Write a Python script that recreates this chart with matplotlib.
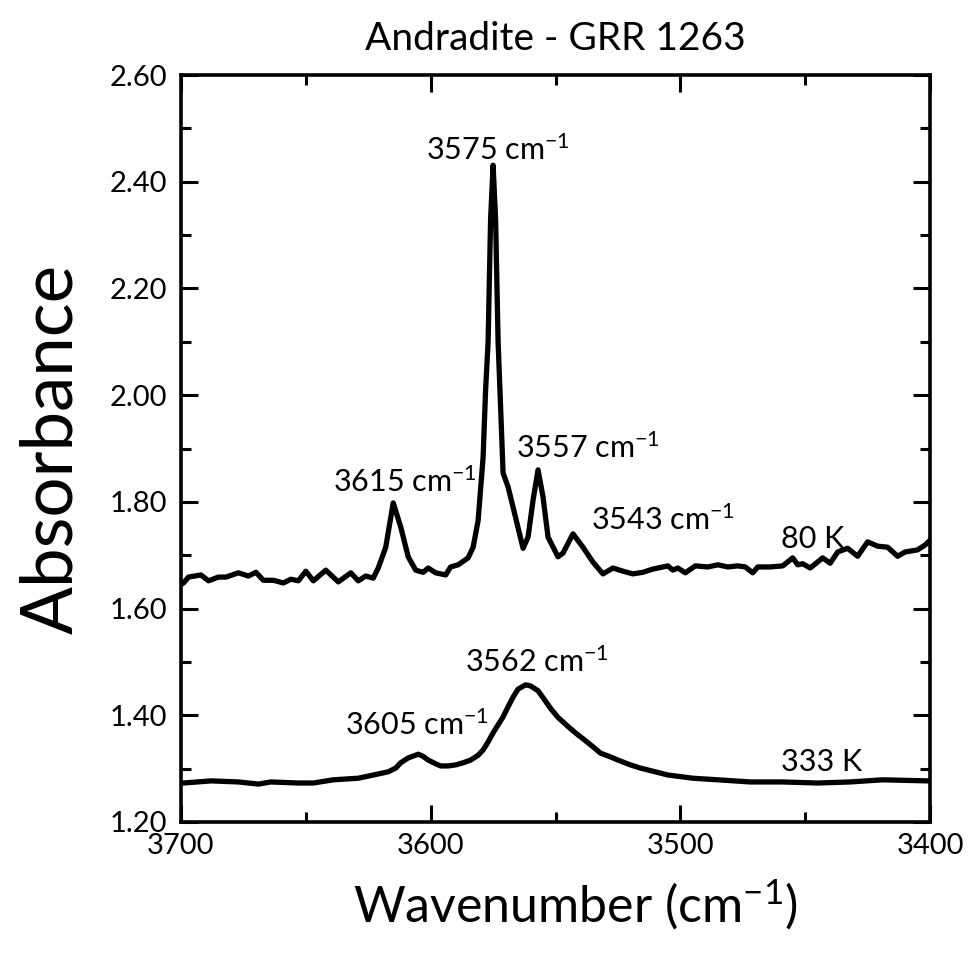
import matplotlib
matplotlib.use("Agg")
import matplotlib.pyplot as plt
from matplotlib.ticker import MultipleLocator, FormatStrFormatter

plt.rcParams['font.family'] = ['Lato', 'DejaVu Sans']
plt.rcParams['mathtext.fontset'] = 'custom'
plt.rcParams['mathtext.rm'] = 'Lato'
plt.rcParams['mathtext.it'] = 'Lato'
plt.rcParams['mathtext.bf'] = 'Lato'

# 80 K spectrum (wavenumber cm-1, absorbance)
wn_80 = [3700, 3699, 3697, 3692, 3689, 3685, 3682, 3677, 3673, 3670, 3667, 3663, 3659,
         3656, 3653, 3650, 3647, 3642, 3637, 3632, 3629, 3626, 3623, 3621, 3618, 3615,
         3612, 3609, 3606, 3603, 3601, 3598, 3594, 3592, 3589, 3585, 3583, 3581, 3579,
         3578, 3577, 3576, 3575, 3574, 3573, 3572, 3571, 3569, 3567, 3563, 3561, 3559,
         3557, 3555, 3553, 3549, 3547, 3543, 3539, 3535, 3531, 3527, 3523, 3519, 3515,
         3511, 3505, 3503, 3501, 3498, 3494, 3489, 3485, 3481, 3477, 3474, 3471, 3469,
         3464, 3459, 3455, 3453, 3451, 3448, 3443, 3440, 3437, 3433, 3429, 3425, 3421,
         3417, 3413, 3410, 3405, 3402, 3400]
abs_80 = [1.645, 1.648, 1.659, 1.663, 1.652, 1.659, 1.659, 1.667, 1.661, 1.668, 1.653, 1.653, 1.648,
          1.655, 1.652, 1.670, 1.652, 1.672, 1.650, 1.667, 1.652, 1.661, 1.657, 1.676, 1.715, 1.798,
          1.753, 1.697, 1.672, 1.668, 1.676, 1.667, 1.663, 1.678, 1.682, 1.695, 1.715, 1.765, 1.884,
          2.010, 2.100, 2.330, 2.431, 2.330, 2.100, 1.978, 1.854, 1.828, 1.790, 1.713, 1.734, 1.803,
          1.860, 1.809, 1.734, 1.697, 1.704, 1.740, 1.715, 1.687, 1.665, 1.676, 1.670, 1.665, 1.668,
          1.674, 1.680, 1.672, 1.676, 1.667, 1.680, 1.678, 1.682, 1.678, 1.680, 1.678, 1.667, 1.678,
          1.678, 1.680, 1.695, 1.682, 1.684, 1.676, 1.695, 1.685, 1.706, 1.713, 1.698, 1.725, 1.717,
          1.715, 1.698, 1.706, 1.710, 1.719, 1.728]

# 333 K spectrum
wn_333 = [3700, 3699, 3688, 3677, 3669, 3664, 3653, 3647, 3639, 3629, 3623, 3617, 3614, 3612,
          3609, 3605, 3603, 3601, 3598, 3596, 3593, 3590, 3587, 3584, 3581, 3579, 3577, 3575,
          3573, 3571, 3569, 3567, 3565, 3562, 3560, 3557, 3555, 3552, 3549, 3545, 3542,
          3539, 3535, 3532, 3528, 3525, 3520, 3516, 3510, 3505, 3500, 3495, 3485, 3472,
          3459, 3445, 3432, 3419, 3401, 3400]
abs_333 = [1.273, 1.273, 1.277, 1.275, 1.271, 1.275, 1.273, 1.273, 1.279, 1.282, 1.288, 1.294, 1.301, 1.311,
           1.320, 1.327, 1.323, 1.316, 1.309, 1.305, 1.305, 1.307, 1.311, 1.316, 1.325, 1.335, 1.350, 1.367,
           1.382, 1.397, 1.416, 1.434, 1.449, 1.457, 1.455, 1.446, 1.433, 1.413, 1.396, 1.379, 1.367,
           1.356, 1.341, 1.329, 1.322, 1.316, 1.307, 1.301, 1.294, 1.288, 1.285, 1.282, 1.279, 1.275,
           1.275, 1.273, 1.275, 1.279, 1.277, 1.277]

# Peak annotations: (label, x, y) - text baseline positions
peak_labels = ["3575 cm$^{-1}$", "3615 cm$^{-1}$", "3557 cm$^{-1}$", "3543 cm$^{-1}$",
               "3562 cm$^{-1}$", "3605 cm$^{-1}$", "80 K", "333 K"]
peak_x = [3573.0, 3610.4, 3537.2, 3507.0, 3557.6, 3605.6, 3447.0, 3443.6]
peak_y = [2.441, 1.818, 1.882, 1.747, 1.481, 1.363, 1.713, 1.296]

fig = plt.figure(figsize=(9.70, 9.56), dpi=100)
ax = fig.add_axes([0.1866, 0.1402, 0.9588 - 0.1866, 0.9215 - 0.1402])

ax.plot(wn_80, abs_80, color='black', lw=3.8, solid_joinstyle='round')
ax.plot(wn_333, abs_333, color='black', lw=3.8, solid_joinstyle='round')

for lab, x, y in zip(peak_labels, peak_x, peak_y):
    ax.text(x, y, lab, ha='center', va='baseline', fontsize=22)

ax.set_xlim(3700, 3400)
ax.set_ylim(1.20, 2.60)
ax.xaxis.set_major_locator(MultipleLocator(100))
ax.xaxis.set_minor_locator(MultipleLocator(50))
ax.yaxis.set_major_locator(MultipleLocator(0.2))
ax.yaxis.set_minor_locator(MultipleLocator(0.1))
ax.yaxis.set_major_formatter(FormatStrFormatter('%.2f'))

ax.tick_params(which='both', direction='in', top=True, right=True, width=2.2)
ax.tick_params(which='major', length=12, labelsize=21)
ax.tick_params(axis='y', which='major', pad=10)
ax.tick_params(axis='x', which='major', pad=8)
ax.tick_params(which='minor', length=7)
for sp in ax.spines.values():
    sp.set_linewidth(2.6)

ax.set_title("Andradite - GRR 1263", fontsize=28, pad=18)
ax.set_xlabel("Wavenumber (cm$^{-1}$)", fontsize=36)
ax.xaxis.set_label_coords(0.527, -0.111, transform=ax.transAxes)
ax.xaxis.label.set_va('center')
ax.set_ylabel("Absorbance", fontsize=51)
ax.yaxis.set_label_coords(-0.172, 0.5, transform=ax.transAxes)
ax.yaxis.label.set_va('center')

fig.savefig("out.png", dpi=100)
